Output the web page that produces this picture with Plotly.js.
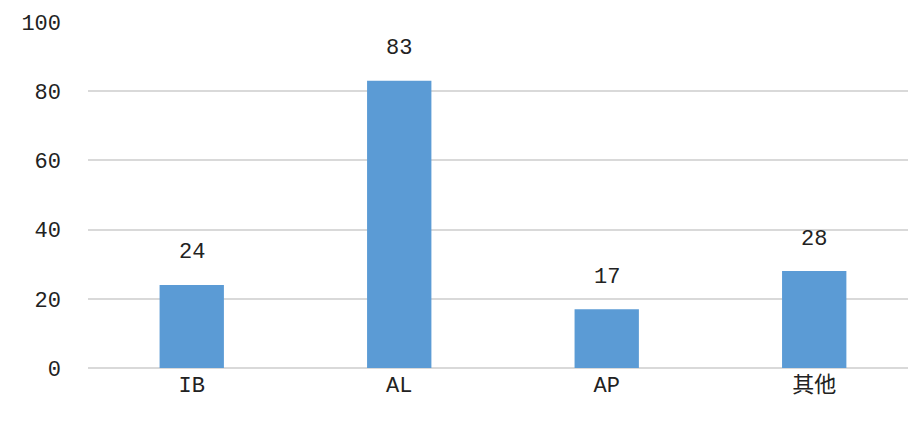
<!DOCTYPE html>
<html>
<head>
<meta charset="utf-8">
<script src="https://cdn.plot.ly/plotly-3.0.1.min.js"></script>
<style>html,body{margin:0;padding:0;background:#fff;overflow:hidden}#chart{width:908px;height:422px}</style>
</head>
<body>
<div id="chart"></div>
<script>
const categories = ["IB", "AL", "AP", "其他"];
const values = [24, 83, 17, 28];
const yTicks = [0, 20, 40, 60, 80, 100];

const fontFam = "'Liberation Mono', 'Noto Sans CJK SC', monospace";

const trace = {
  type: "bar",
  x: categories,
  y: values,
  marker: {color: "#5B9BD5"},
  width: 0.31,
  hoverinfo: "none"
};

const annotations = categories.map((c, i) => ({
  x: c, y: values[i], xref: "x", yref: "y",
  text: String(values[i]), showarrow: false,
  yanchor: "middle", yshift: 32,
  font: {family: fontFam, size: 22, color: "#222"}
}));

const layout = {
  width: 908, height: 422,
  margin: {l: 88, r: 0, t: 22, b: 54},
  paper_bgcolor: "#fff", plot_bgcolor: "#fff",
  showlegend: false,
  xaxis: {
    type: "category",
    range: [-0.5, 3.452],
    showgrid: false, zeroline: false, showline: false,
    ticks: "", ticklabelstandoff: 1,
    tickfont: {family: fontFam, size: 22, color: "#222"}
  },
  yaxis: {
    range: [0, 100],
    tickvals: yTicks,
    showgrid: true, gridcolor: "#d9d9d9", gridwidth: 2,
    zeroline: true, zerolinecolor: "#d9d9d9", zerolinewidth: 2,
    showline: false, ticks: "", ticklabelstandoff: 26,
    tickfont: {family: fontFam, size: 22, color: "#222"}
  },
  annotations: annotations
};

Plotly.newPlot("chart", [trace], layout, {staticPlot: true, displayModeBar: false});
</script>
</body>
</html>
